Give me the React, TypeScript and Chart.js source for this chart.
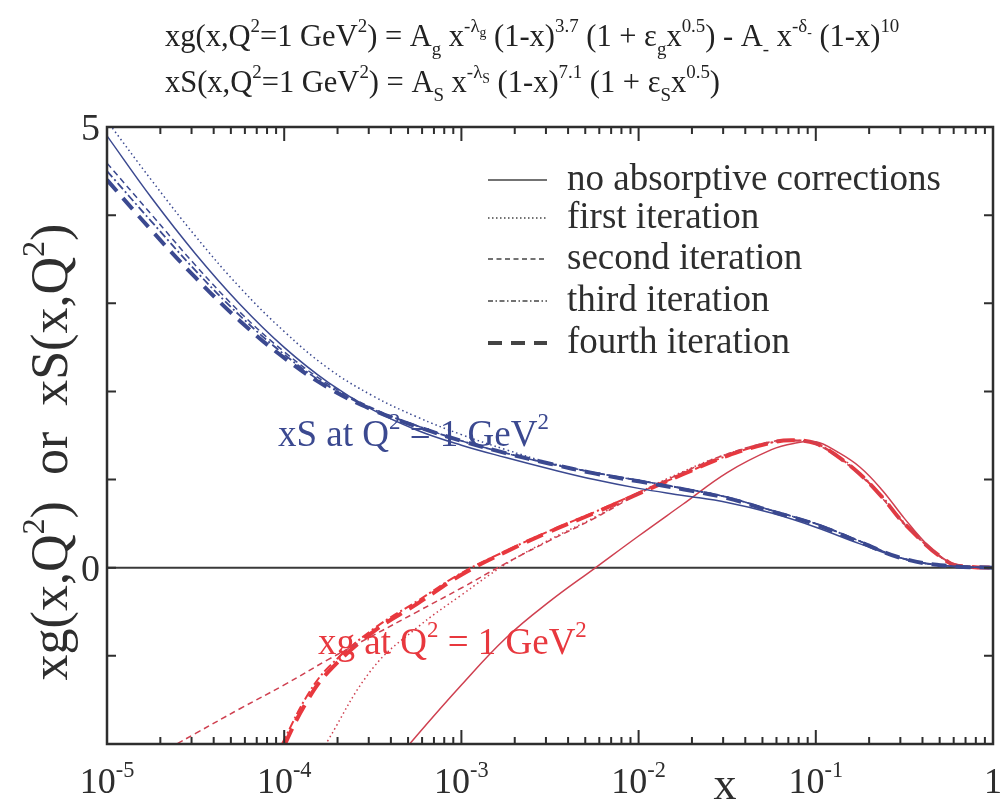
import React, { useEffect, useRef } from 'react';
import { Chart, registerables } from 'chart.js';

Chart.register(...registerables);

// ---------- data ----------
// Bjorken x grid for the sea-quark (xS) curves
const X_GRID = [1e-5, 1.778e-5, 3.162e-5, 5.623e-5, 1e-4, 1.778e-4, 3.162e-4, 5.623e-4, 1e-3, 1.778e-3, 3.162e-3, 5.623e-3, 1e-2, 1.778e-2, 3.162e-2, 5.623e-2, 0.1, 0.1778, 0.3162, 0.5623, 1];

const XS_NO_ABS = [4.90, 4.20, 3.56, 2.99, 2.50, 2.10, 1.79, 1.56, 1.39, 1.25, 1.12, 1.00, 0.90, 0.82, 0.74, 0.62, 0.46, 0.27, 0.10, 0.02, 0];
const XS_FIRST = [5.07, 4.40, 3.76, 3.18, 2.68, 2.26, 1.95, 1.71, 1.51, 1.34, 1.19, 1.08, 0.99, 0.90, 0.80, 0.65, 0.50, 0.30, 0.10, 0.02, 0];
const XS_SECOND = [4.59, 4.01, 3.43, 2.90, 2.45, 2.08, 1.81, 1.61, 1.44, 1.30, 1.18, 1.08, 0.99, 0.90, 0.80, 0.65, 0.50, 0.30, 0.10, 0.02, 0];
const XS_THIRD = [4.50, 3.93, 3.37, 2.86, 2.42, 2.06, 1.80, 1.61, 1.44, 1.30, 1.18, 1.08, 0.99, 0.90, 0.80, 0.65, 0.50, 0.30, 0.10, 0.02, 0];
const XS_FOURTH = [4.40, 3.83, 3.29, 2.80, 2.38, 2.04, 1.79, 1.60, 1.44, 1.30, 1.18, 1.07, 0.98, 0.89, 0.79, 0.64, 0.49, 0.29, 0.10, 0.02, 0];

// gluon (xg) curves, each with its own x values
const XG_NO_ABS_X = [3.162e-4, 5.623e-4, 1e-3, 1.778e-3, 3.162e-3, 5.623e-3, 1e-2, 1.778e-2, 3.162e-2, 5.623e-2, 7.499e-2, 0.1, 0.1334, 0.1778, 0.2371, 0.3162, 0.4217, 0.5623, 0.7499, 1];
const XG_NO_ABS = [-2.5, -1.90, -1.33, -0.80, -0.38, -0.01, 0.36, 0.72, 1.08, 1.34, 1.41, 1.43, 1.31, 1.14, 0.88, 0.56, 0.27, 0.07, 0.01, 0];

const XG_FIRST_X = [1.413e-4, 1.778e-4, 3.162e-4, 5.623e-4, 1e-3, 1.778e-3, 3.162e-3, 5.623e-3, 1e-2, 1.778e-2, 3.162e-2, 5.623e-2, 7.499e-2, 0.1, 0.1334, 0.1778, 0.2371, 0.3162, 0.5623, 0.7499, 1];
const XG_FIRST = [-2.33, -1.95, -1.14, -0.68, -0.31, 0.04, 0.32, 0.57, 0.85, 1.09, 1.29, 1.42, 1.445, 1.41, 1.27, 1.07, 0.81, 0.51, 0.06, 0.01, 0];

const XG_SECOND_X = [1.778e-5, 3.162e-5, 5.623e-5, 1e-4, 1.778e-4, 3.162e-4, 5.623e-4, 1e-3, 1.778e-3, 3.162e-3, 5.623e-3, 1e-2, 1.778e-2, 3.162e-2, 5.623e-2, 7.499e-2, 0.1, 0.1334, 0.1778, 0.2371, 0.3162, 0.5623, 0.7499, 1];
const XG_SECOND = [-2.16, -1.88, -1.60, -1.33, -1.04, -0.77, -0.50, -0.23, 0.05, 0.31, 0.56, 0.84, 1.08, 1.29, 1.43, 1.445, 1.40, 1.25, 1.05, 0.79, 0.49, 0.06, 0.01, 0];

const XG_THIRD_X = [7.943e-5, 1e-4, 1.349e-4, 1.778e-4, 3.162e-4, 5.623e-4, 1e-3, 1.778e-3, 3.162e-3, 5.623e-3, 1e-2, 1.778e-2, 3.162e-2, 5.623e-2, 7.499e-2, 0.1, 0.1334, 0.1778, 0.2371, 0.3162, 0.5623, 0.7499, 1];
const XG_THIRD = [-2.35, -1.95, -1.45, -1.13, -0.70, -0.38, -0.06, 0.19, 0.42, 0.63, 0.85, 1.06, 1.27, 1.42, 1.445, 1.41, 1.26, 1.06, 0.80, 0.50, 0.06, 0.01, 0];

const XG_FOURTH_X = [8.913e-5, 1e-4, 1.349e-4, 1.778e-4, 3.162e-4, 5.623e-4, 1e-3, 1.778e-3, 3.162e-3, 5.623e-3, 1e-2, 1.778e-2, 3.162e-2, 5.623e-2, 7.499e-2, 0.1, 0.1334, 0.1778, 0.2371, 0.3162, 0.5623, 0.7499, 1];
const XG_FOURTH = [-2.30, -2.02, -1.51, -1.18, -0.73, -0.41, -0.08, 0.18, 0.41, 0.62, 0.84, 1.06, 1.27, 1.42, 1.445, 1.41, 1.26, 1.06, 0.80, 0.50, 0.06, 0.01, 0];

const LEGEND_LABELS = ['no absorptive corrections', 'first iteration', 'second iteration', 'third iteration', 'fourth iteration'];
const X_TICK_EXPONENTS = [-5, -4, -3, -2, -1, 0];
const Y_TICK_VALUES = [-2, -1, 0, 1, 2, 3, 4, 5];
const Y_TICK_LABELS = [5, 0];

// ---------- styles ----------
const SERIF = '"Liberation Serif", "Times New Roman", serif';
const BLUE = '#3b4990';
const RED = '#e8383e';
const RED_THIN = '#cf4050';
const INK = '#2e2e2e';

type Seg = { t: string; k?: 'n' | 'sup' | 'sub' | 'ss' };
const N = (t: string): Seg => ({ t, k: 'n' });
const SUP = (t: string): Seg => ({ t, k: 'sup' });
const SUB = (t: string): Seg => ({ t, k: 'sub' });
const SS = (t: string): Seg => ({ t, k: 'ss' });

const FORMULA_1: Seg[] = [N('xg(x,Q'), SUP('2'), N('=1 GeV'), SUP('2'), N(') = A'), SUB('g'), N(' x'), SUP('-λ'), SS('g'), N(' (1-x)'), SUP('3.7'), N(' (1 + ε'), SUB('g'), N('x'), SUP('0.5'), N(') - A'), SUB('-'), N(' x'), SUP('-δ'), SS('-'), N(' (1-x)'), SUP('10')];
const FORMULA_2: Seg[] = [N('xS(x,Q'), SUP('2'), N('=1 GeV'), SUP('2'), N(') = A'), SUB('S'), N(' x'), SUP('-λ'), SS('S'), N(' (1-x)'), SUP('7.1'), N(' (1 + ε'), SUB('S'), N('x'), SUP('0.5'), N(')')];
const Y_TITLE: Seg[] = [N('xg(x,Q'), SUP('2'), N(')  or  xS(x,Q'), SUP('2'), N(')')];
const XS_LABEL: Seg[] = [N('xS at Q'), SUP('2'), N(' = 1 GeV'), SUP('2')];
const XG_LABEL: Seg[] = [N('xg at Q'), SUP('2'), N(' = 1 GeV'), SUP('2')];

function spec(k?: string) {
  if (k === 'sup') return { s: 0.62, dy: -0.45 };
  if (k === 'sub') return { s: 0.62, dy: 0.3 };
  if (k === 'ss') return { s: 0.45, dy: -0.3 };
  return { s: 1, dy: 0 };
}

function drawRich(ctx: CanvasRenderingContext2D, segs: Seg[], x: number, y: number, size: number, color: string, align: 'left' | 'center' | 'right' = 'left') {
  let w = 0;
  for (const sg of segs) {
    const sp = spec(sg.k);
    ctx.font = `${size * sp.s}px ${SERIF}`;
    w += ctx.measureText(sg.t).width;
  }
  let cx = align === 'left' ? x : align === 'center' ? x - w / 2 : x - w;
  ctx.fillStyle = color;
  ctx.textAlign = 'left';
  ctx.textBaseline = 'alphabetic';
  for (const sg of segs) {
    const sp = spec(sg.k);
    ctx.font = `${size * sp.s}px ${SERIF}`;
    ctx.fillText(sg.t, cx, y + sp.dy * size);
    cx += ctx.measureText(sg.t).width;
  }
  return w;
}

const pts = (xs: number[], ys: number[]) => xs.map((x, i) => ({ x, y: ys[i] }));

const decor = {
  id: 'decor',
  beforeDatasetsDraw(chart: any) {
    const { ctx, chartArea: a, scales } = chart;
    const y0 = scales.y.getPixelForValue(0);
    ctx.save();
    ctx.strokeStyle = '#3a3a3a';
    ctx.lineWidth = 2;
    ctx.beginPath();
    ctx.moveTo(a.left, y0);
    ctx.lineTo(a.right, y0);
    ctx.stroke();
    ctx.restore();
  },
  afterDatasetsDraw(chart: any) {
    const { ctx, chartArea: a, scales } = chart;
    const sx = scales.x, sy = scales.y;
    ctx.save();
    ctx.strokeStyle = INK;
    ctx.lineWidth = 2.5;
    ctx.strokeRect(a.left, a.top, a.right - a.left, a.bottom - a.top);
    ctx.lineWidth = 2;
    ctx.beginPath();
    for (let e = -5; e < 0; e++) {
      for (let m = 1; m <= 9; m++) {
        const v = m * Math.pow(10, e);
        const px = sx.getPixelForValue(v);
        const len = m === 1 ? 14 : 7;
        ctx.moveTo(px, a.bottom);
        ctx.lineTo(px, a.bottom - len);
        ctx.moveTo(px, a.top);
        ctx.lineTo(px, a.top + len);
      }
    }
    for (const v of Y_TICK_VALUES) {
      const py = sy.getPixelForValue(v);
      ctx.moveTo(a.left, py);
      ctx.lineTo(a.left + 9, py);
      ctx.moveTo(a.right, py);
      ctx.lineTo(a.right - 9, py);
    }
    ctx.stroke();
    ctx.restore();
  },
  afterDraw(chart: any) {
    const { ctx, chartArea: a, scales } = chart;
    const sx = scales.x, sy = scales.y;
    ctx.save();
    // formulas at top
    drawRich(ctx, FORMULA_1, 165, 46, 30.5, '#222');
    drawRich(ctx, FORMULA_2, 165, 92, 30.5, '#222');
    // x tick labels
    for (const e of X_TICK_EXPONENTS) {
      const px = sx.getPixelForValue(Math.pow(10, e));
      if (e === 0) drawRich(ctx, [N('1')], px, 793, 36, INK, 'center');
      else drawRich(ctx, [N('10'), SUP(String(e))], px, 793, 36, INK, 'center');
    }
    // x title
    drawRich(ctx, [N('x')], 725, 799, 46, INK, 'center');
    // y tick labels
    for (const v of Y_TICK_LABELS) {
      const py = sy.getPixelForValue(v);
      drawRich(ctx, [N(String(v))], a.left - 7, py + 13, 38, INK, 'right');
    }
    // y title
    ctx.save();
    ctx.translate(67, 452);
    ctx.rotate(-Math.PI / 2);
    drawRich(ctx, Y_TITLE, 0, 0, 52, INK, 'center');
    ctx.restore();
    // curve labels
    drawRich(ctx, XS_LABEL, 278, 446, 37, BLUE);
    drawRich(ctx, XG_LABEL, 318, 654, 37, RED);
    // legend
    const rows = [180, 218, 259, 301, 343];
    const dashes = [[], [1.5, 2.5], [5, 3.5], [5, 2.5, 1.5, 2.5], [14, 9]];
    const widths = [1.5, 1.5, 1.5, 1.5, 4];
    rows.forEach((ry, i) => {
      ctx.save();
      ctx.strokeStyle = '#444';
      ctx.lineWidth = widths[i];
      ctx.setLineDash(dashes[i]);
      ctx.beginPath();
      ctx.moveTo(488, ry);
      ctx.lineTo(547, ry);
      ctx.stroke();
      ctx.restore();
      drawRich(ctx, [N(LEGEND_LABELS[i])], 567, ry + 10, 37, INK);
    });
    ctx.restore();
  },
};

export default function App() {
  const ref = useRef<HTMLCanvasElement>(null);
  useEffect(() => {
    const line = (label: string, data: any[], color: string, width: number, dash: number[]) => ({
      label,
      data,
      borderColor: color,
      borderWidth: width,
      borderDash: dash,
      pointRadius: 0,
      fill: false,
      tension: 0.4,
    });
    const chart = new Chart(ref.current as HTMLCanvasElement, {
      type: 'line',
      data: {
        datasets: [
          line('xS no absorptive corrections', pts(X_GRID, XS_NO_ABS), BLUE, 1.5, []),
          line('xS first iteration', pts(X_GRID, XS_FIRST), BLUE, 1.5, [1.5, 3]),
          line('xS second iteration', pts(X_GRID, XS_SECOND), BLUE, 1.5, [6, 4]),
          line('xS third iteration', pts(X_GRID, XS_THIRD), BLUE, 1.8, [8, 3, 2, 3]),
          line('xS fourth iteration', pts(X_GRID, XS_FOURTH), BLUE, 4, [15, 9]),
          line('xg no absorptive corrections', pts(XG_NO_ABS_X, XG_NO_ABS), RED_THIN, 1.5, []),
          line('xg first iteration', pts(XG_FIRST_X, XG_FIRST), RED_THIN, 1.5, [1.5, 3]),
          line('xg second iteration', pts(XG_SECOND_X, XG_SECOND), RED_THIN, 1.5, [6, 4]),
          line('xg third iteration', pts(XG_THIRD_X, XG_THIRD), RED, 2, [9, 3, 2, 3]),
          line('xg fourth iteration', pts(XG_FOURTH_X, XG_FOURTH), RED, 4, [18, 9]),
        ],
      },
      options: {
        responsive: false,
        animation: false,
        devicePixelRatio: 1,
        layout: { padding: { left: 107, top: 127, right: 10, bottom: 61 } },
        plugins: { legend: { display: false }, tooltip: { enabled: false } },
        scales: {
          x: { type: 'logarithmic', min: 1e-5, max: 1, display: false },
          y: { type: 'linear', min: -2, max: 5, display: false },
        },
      },
      plugins: [decor],
    } as any);
    return () => chart.destroy();
  }, []);
  return (
    <div style={{ position: 'absolute', left: 0, top: 0, width: 1003, height: 805, background: '#fff' }}>
      <canvas ref={ref} width={1003} height={805} style={{ display: 'block', width: 1003, height: 805 }} />
    </div>
  );
}
